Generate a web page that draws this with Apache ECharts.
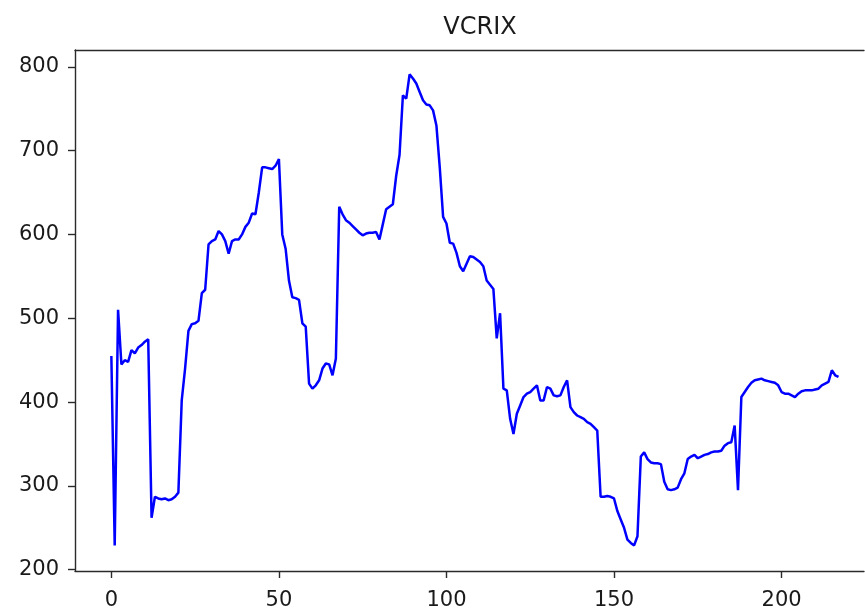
<!DOCTYPE html>
<html>
<head>
<meta charset="utf-8">
<script src="https://cdn.jsdelivr.net/npm/echarts@6/dist/echarts.min.js"></script>
<style>
  html, body { margin: 0; padding: 0; background: #fff; }
  #chart { width: 865px; height: 611px; }
</style>
</head>
<body>
<div id="chart"></div>
<script>
// VCRIX values, one per index (0..217)
const vcrix = [
  455, 229, 510, 445, 450, 448, 462, 458, 465, 468,
  472, 475, 262, 287, 285, 284, 285, 283, 284, 287,
  292, 402, 440, 485, 493, 494, 497, 530, 534, 588,
  592, 594, 604, 600, 592, 577, 592, 594, 594, 600,
  609, 614, 625, 624, 650, 680, 680, 679, 678, 682,
  690, 600, 583, 545, 525, 524, 522, 494, 490, 422,
  416, 420, 426, 440, 446, 445, 432, 452, 633, 624,
  617, 614, 610, 606, 602, 599, 601, 602, 602, 603,
  594, 612, 630, 633, 636, 670, 695, 766, 762, 791,
  786, 780, 770, 760, 755, 754, 748, 730, 680, 621,
  613, 590, 589, 578, 562, 556, 565, 574, 573, 570,
  567, 562, 545, 540, 535, 476, 506, 416, 414, 380,
  362, 386, 396, 406, 410, 412, 416, 420, 402, 402,
  418, 416, 408, 407, 408, 418, 426, 394, 388, 384,
  382, 380, 376, 374, 370, 366, 287, 287, 288, 287,
  285, 270, 260, 250, 236, 232, 229, 240, 335, 340,
  332, 328, 327, 327, 326, 305, 296, 295, 296, 298,
  308, 315, 332, 335, 337, 333, 335, 337, 338, 340,
  341, 341, 342, 348, 351, 352, 372, 295, 406, 412,
  418, 423, 426, 427, 428, 426, 425, 424, 423, 420,
  412, 410, 410, 408, 406, 410, 413, 414, 414, 414,
  415, 416, 420, 422, 424, 438, 432, 430
];
const xTicks = [0, 50, 100, 150, 200];
const yTicks = [200, 300, 400, 500, 600, 700, 800];

const chart = echarts.init(document.getElementById('chart'));
const font = 'DejaVu Sans';
const spine = { show: true, onZero: false, lineStyle: { color: '#2a2a2a', width: 1.4 } };
const tick = { length: 7, lineStyle: { color: '#2a2a2a', width: 1.4 } };

chart.setOption({
  animation: false,
  title: {
    text: 'VCRIX',
    left: 475,
    top: 11,
    textAlign: 'center',
    textStyle: { fontFamily: font, fontSize: 24, fontWeight: 'normal', color: '#1a1a1a' }
  },
  grid: { left: 75, top: 50, width: 789, height: 521, containLabel: false },
  xAxis: [{
    type: 'value',
    min: -10.85, max: 224.6,
    axisLine: spine,
    splitLine: { show: false },
    axisTick: Object.assign({ show: true, customValues: xTicks }, tick),
    axisLabel: { customValues: xTicks, fontFamily: font, fontSize: 21, color: '#1a1a1a', margin: 19 }
  }, {
    type: 'value',
    position: 'top',
    min: -10.85, max: 224.6,
    axisLine: spine,
    splitLine: { show: false },
    axisTick: { show: false },
    axisLabel: { show: false }
  }],
  yAxis: {
    type: 'value',
    min: 198.5, max: 820,
    axisLine: spine,
    splitLine: { show: false },
    axisTick: Object.assign({ show: true, customValues: yTicks }, tick),
    axisLabel: { customValues: yTicks, fontFamily: font, fontSize: 21, color: '#1a1a1a', margin: 16 }
  },
  series: [{
    type: 'line',
    xAxisIndex: 0,
    data: vcrix.map((v, i) => [i, v]),
    showSymbol: false,
    lineStyle: { color: '#0000ff', width: 2.5 },
    itemStyle: { color: '#0000ff' }
  }]
});
</script>
</body>
</html>
